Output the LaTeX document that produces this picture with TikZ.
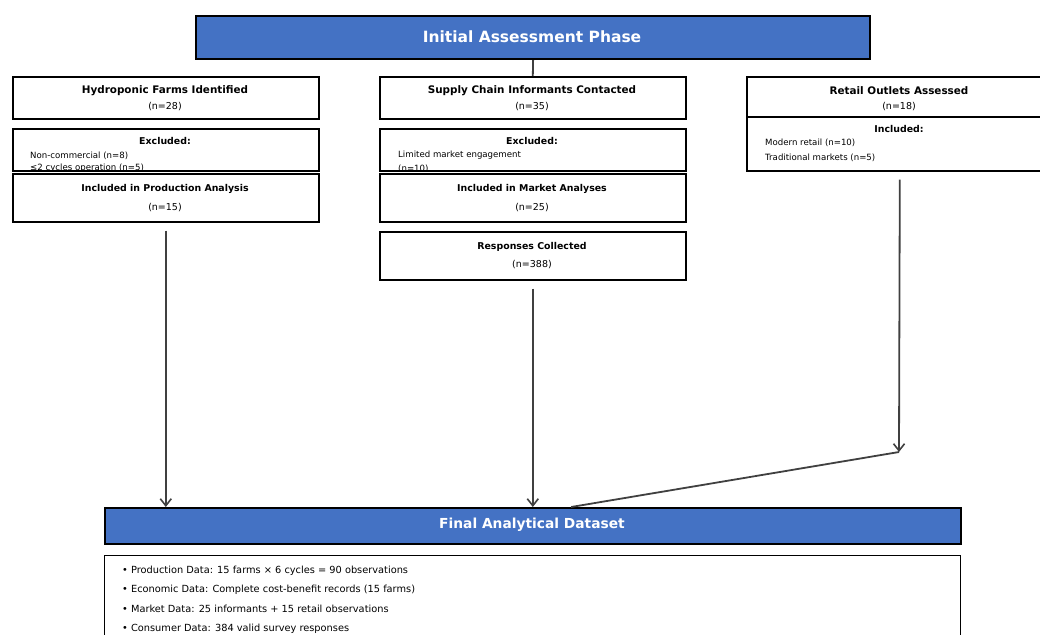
\documentclass[tikz,border=0pt]{standalone}
\usepackage{fontspec}
\setmainfont{DejaVu Sans}
\usetikzlibrary{arrows.meta}
\definecolor{hdrblue}{HTML}{4472C4}
\definecolor{connc}{HTML}{404040}
\begin{document}
\begin{tikzpicture}[x=1pt,y=-1pt,
  box/.style={draw=black, line width=1.6pt, fill=white, inner sep=0pt, anchor=north west},
  hdr/.style={draw=black, line width=2.2pt, fill=hdrblue, inner sep=0pt, anchor=north west},
  conn/.style={draw=connc, line width=1.8pt},
  arr/.style={conn, -{Straight Barb[length=7pt,width=11pt,line width=1.6pt]}},
  toph/.style={font=\fontsize{10.4}{12}\selectfont\bfseries, inner sep=0pt},
  subh/.style={font=\fontsize{9.4}{11}\selectfont\bfseries, inner sep=0pt},
  ntxt/.style={font=\fontsize{9.5}{11}\selectfont, inner sep=0pt},
  itm/.style={font=\fontsize{8.6}{10}\selectfont, inner sep=0pt, anchor=west},
  bul/.style={font=\fontsize{9.8}{11}\selectfont, inner sep=0pt, anchor=west},
  bigh/.style={font=\fontsize{15.5}{18}\selectfont\bfseries, text=white, inner sep=0pt},
  finh/.style={font=\fontsize{13.8}{16}\selectfont\bfseries, text=white, inner sep=0pt}
]
\useasboundingbox (0,0) rectangle (1040,634);
\clip (0,0) rectangle (1040,634);

% Title
\node[hdr, minimum width=674pt, minimum height=43pt] (title) at (195,15) {};
\node[bigh] (titleT) at (532,37) {Initial Assessment Phase};

% Left column
\node[box, minimum width=306pt, minimum height=42pt] (hydro) at (12,76) {};
\node[toph] (hydroT) at (165,91) {Hydroponic Farms Identified};
\node[ntxt] (hydroN) at (165,106.5) {(n=28)};
\node[box, minimum width=306pt, minimum height=42pt] (exA) at (12,128) {};
\begin{scope}
  \clip (exA.north west) rectangle (exA.south east);
  \node[subh] (exAT) at (165,140.5) {Excluded:};
  \node[itm] (exA1) at (30,155.5) {Non-commercial (n=8)};
  \node[itm] (exA2) at (30,168.5) {≤2 cycles operation (n=5)};
\end{scope}
\node[box, minimum width=306pt, minimum height=48pt] (inclP) at (12,173) {};
\node[subh] (inclPT) at (165,188.5) {Included in Production Analysis};
\node[ntxt] (inclPN) at (165,207.5) {(n=15)};

% Middle column
\node[box, minimum width=306pt, minimum height=42pt] (supply) at (379,76) {};
\node[toph] (supplyT) at (532,91) {Supply Chain Informants Contacted};
\node[ntxt] (supplyN) at (532,106.5) {(n=35)};
\node[box, minimum width=306pt, minimum height=42pt] (exB) at (379,128) {};
\begin{scope}
  \clip (exB.north west) rectangle (exB.south east);
  \node[subh] (exBT) at (532,140.5) {Excluded:};
  \node[itm] (exB1) at (398,155.5) {Limited market engagement};
  \node[itm] (exB2) at (398,168.5) {(n=10)};
\end{scope}
\node[box, minimum width=306pt, minimum height=48pt] (inclM) at (379,173) {};
\node[subh] (inclMT) at (532,188.5) {Included in Market Analyses};
\node[ntxt] (inclMN) at (532,207.5) {(n=25)};
\node[box, minimum width=306pt, minimum height=48pt] (resp) at (379,231) {};
\node[subh] (respT) at (532,246.5) {Responses Collected};
\node[ntxt] (respN) at (532,265) {(n=388)};

% Right column
\node[box, minimum width=306pt, minimum height=40pt] (ret) at (746,76) {};
\node[toph] (retT) at (899,91) {Retail Outlets Assessed};
\node[ntxt] (retN) at (899,106.5) {(n=18)};
\node[box, minimum width=306pt, minimum height=54pt] (retInc) at (746,116) {};
\node[subh] (retIncT) at (899,128.5) {Included:};
\node[itm] (retI1) at (765,143) {Modern retail (n=10)};
\node[itm] (retI2) at (765,158) {Traditional markets (n=5)};

% Final
\node[hdr, minimum width=856pt, minimum height=36pt] (final) at (104,507) {};
\node[finh] (finalT) at (532,525) {Final Analytical Dataset};
\node[box, line width=1.3pt, minimum width=856pt, minimum height=110pt] (data) at (104,555) {};
\node[bul] (b1) at (122,570.5) {• Production Data: 15 farms × 6 cycles = 90 observations};
\node[bul] (b2) at (122,589.5) {• Economic Data: Complete cost-benefit records (15 farms)};
\node[bul] (b3) at (122,609) {• Market Data: 25 informants + 15 retail observations};
\node[bul] (b4) at (122,628.5) {• Consumer Data: 384 valid survey responses};

% Connectors
\draw[conn] (title.south) -- (supply.north);
\draw[arr] ([yshift=-8pt]inclP.south) -- (inclP.south |- final.north);
\draw[arr] ([yshift=-8pt]resp.south) -- (resp.south |- final.north);
\coordinate (join) at (899,452);
\draw[arr] ([yshift=-8pt]retInc.south) -- (join);
\draw[conn] (join) -- ([xshift=38pt]final.north);
\end{tikzpicture}
\end{document}
